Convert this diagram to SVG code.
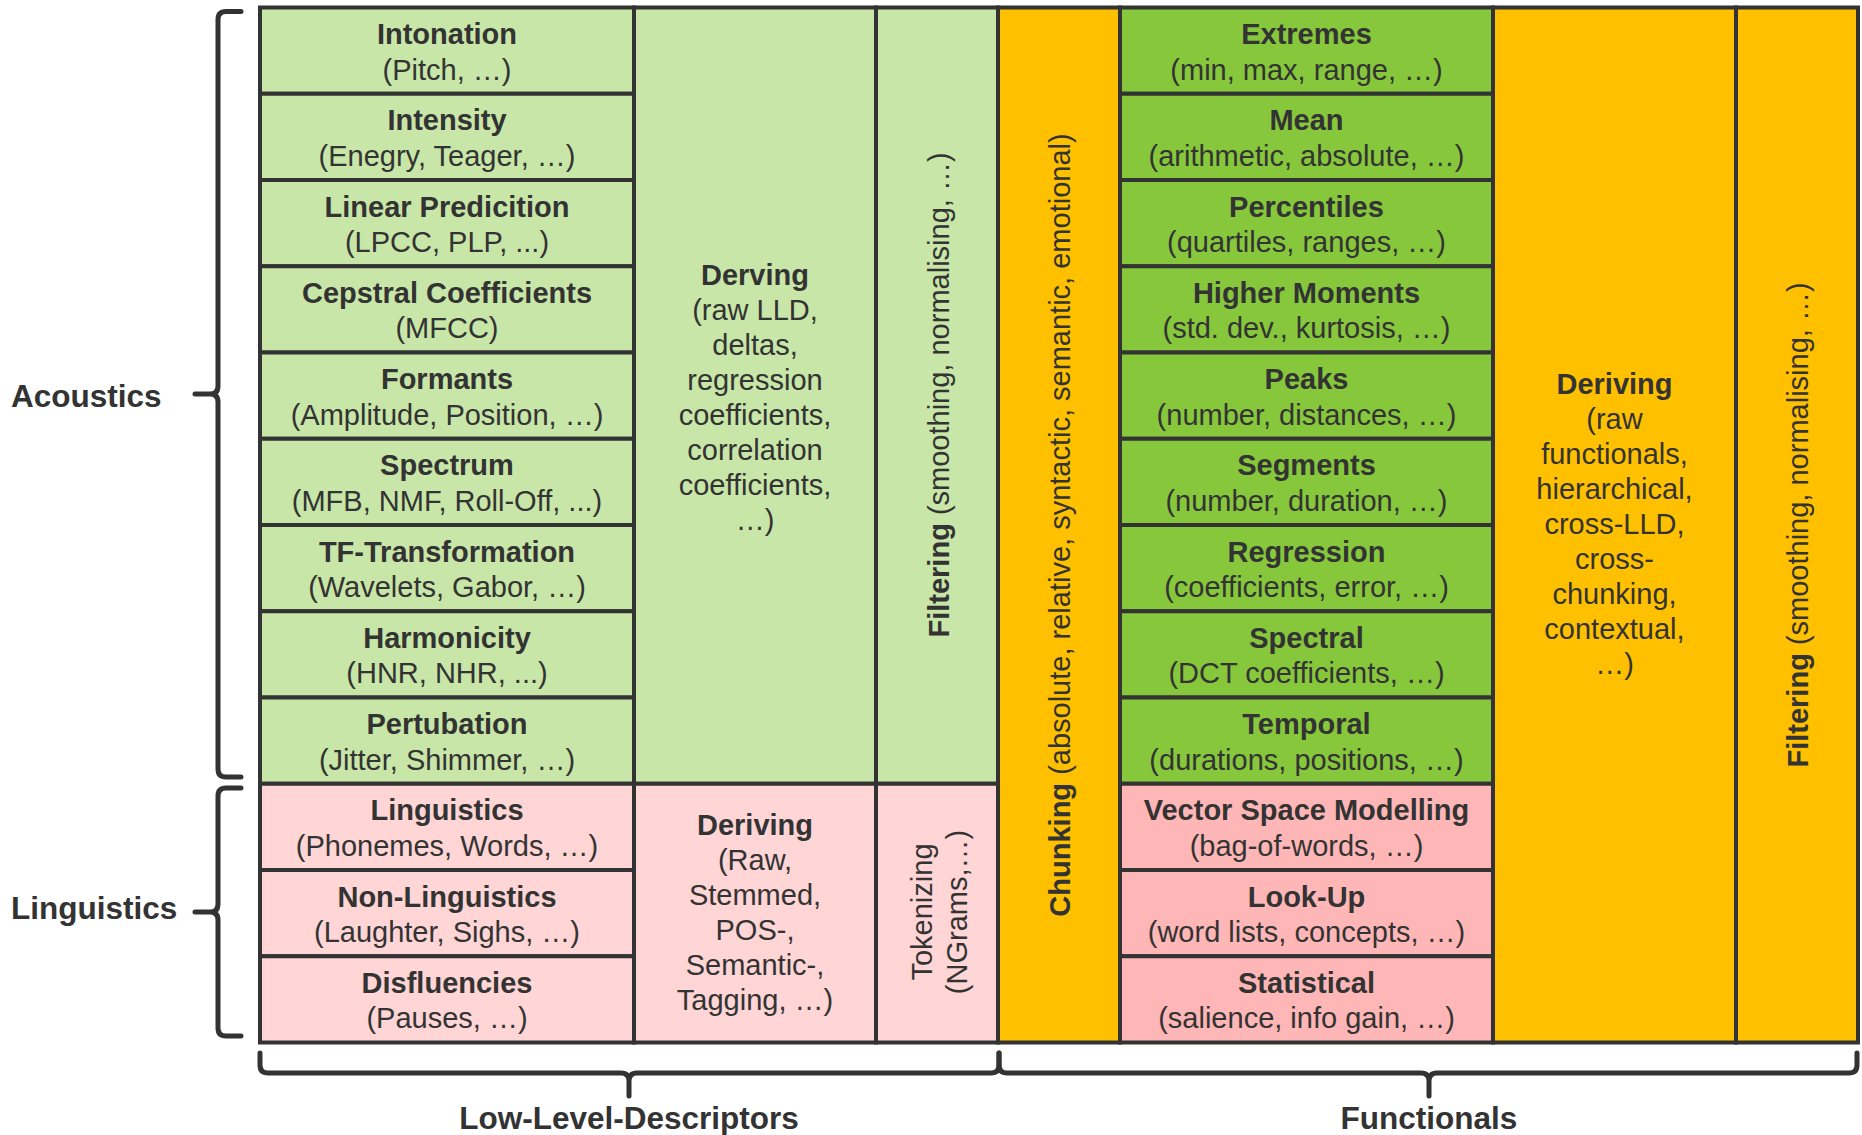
<svg xmlns="http://www.w3.org/2000/svg" width="1862" height="1135" viewBox="0 0 1862 1135">
<style>
text{font-family:"Liberation Sans",Arial,sans-serif;fill:#333;font-size:29px;text-anchor:middle}
.b{font-weight:bold}
.lbl{font-size:31.5px;font-weight:bold}
.side{font-size:31.5px;font-weight:bold;text-anchor:start}
.cell{stroke:#333;stroke-width:4}
.lg{fill:#C8E6A7}
.dg{fill:#86C73C}
.or{fill:#FFC000}
.lp{fill:#FFD5D5}
.dp{fill:#FFB6B6}
.brace{fill:none;stroke:#333;stroke-width:5;stroke-linecap:round;stroke-linejoin:round}
</style>
<rect width="1862" height="1135" fill="#fff"/>

<g id="acoustic-cells">
<g id="intonation"><rect class="cell lg" x="260" y="7.5" width="374" height="86.25"/><text x="447" y="44" class="b">Intonation</text><text x="447" y="79.5">(Pitch, …)</text></g>
<g id="intensity"><rect class="cell lg" x="260" y="93.75" width="374" height="86.25"/><text x="447" y="130.25" class="b">Intensity</text><text x="447" y="165.75">(Enegry, Teager, …)</text></g>
<g id="linear-prediction"><rect class="cell lg" x="260" y="180" width="374" height="86.25"/><text x="447" y="216.5" class="b">Linear Predicition</text><text x="447" y="252">(LPCC, PLP, ...)</text></g>
<g id="cepstral"><rect class="cell lg" x="260" y="266.25" width="374" height="86.25"/><text x="447" y="302.75" class="b">Cepstral Coefficients</text><text x="447" y="338.25">(MFCC)</text></g>
<g id="formants"><rect class="cell lg" x="260" y="352.5" width="374" height="86.25"/><text x="447" y="389" class="b">Formants</text><text x="447" y="424.5">(Amplitude, Position, …)</text></g>
<g id="spectrum"><rect class="cell lg" x="260" y="438.75" width="374" height="86.25"/><text x="447" y="475.25" class="b">Spectrum</text><text x="447" y="510.75">(MFB, NMF, Roll-Off, ...)</text></g>
<g id="tf-transformation"><rect class="cell lg" x="260" y="525" width="374" height="86.25"/><text x="447" y="561.5" class="b">TF-Transformation</text><text x="447" y="597">(Wavelets, Gabor, …)</text></g>
<g id="harmonicity"><rect class="cell lg" x="260" y="611.25" width="374" height="86.25"/><text x="447" y="647.75" class="b">Harmonicity</text><text x="447" y="683.25">(HNR, NHR, ...)</text></g>
<g id="pertubation"><rect class="cell lg" x="260" y="697.5" width="374" height="86.25"/><text x="447" y="734" class="b">Pertubation</text><text x="447" y="769.5">(Jitter, Shimmer, …)</text></g>
</g>

<g id="linguistic-cells">
<g id="linguistics"><rect class="cell lp" x="260" y="783.75" width="374" height="86.25"/><text x="447" y="820.25" class="b">Linguistics</text><text x="447" y="855.75">(Phonemes, Words, …)</text></g>
<g id="non-linguistics"><rect class="cell lp" x="260" y="870" width="374" height="86.25"/><text x="447" y="906.5" class="b">Non-Linguistics</text><text x="447" y="942">(Laughter, Sighs, …)</text></g>
<g id="disfluencies"><rect class="cell lp" x="260" y="956.25" width="374" height="86.25"/><text x="447" y="992.75" class="b">Disfluencies</text><text x="447" y="1028.25">(Pauses, …)</text></g>
</g>

<g id="lld-deriving-acoustic"><rect class="cell lg" x="634" y="7.5" width="242" height="776.25"/>
<text x="755" y="285" class="b">Derving</text><text x="755" y="320">(raw LLD,</text><text x="755" y="355">deltas,</text><text x="755" y="390">regression</text><text x="755" y="425">coefficients,</text><text x="755" y="460">correlation</text><text x="755" y="495">coefficients,</text><text x="755" y="530">…)</text></g>

<g id="lld-filtering"><rect class="cell lg" x="876" y="7.5" width="122" height="776.25"/>
<text transform="translate(949,395) rotate(-90)"><tspan class="b">Filtering</tspan> (smoothing, normalising, …)</text></g>

<g id="lld-deriving-linguistic"><rect class="cell lp" x="634" y="783.75" width="242" height="258.75"/>
<text x="755" y="835" class="b">Deriving</text><text x="755" y="870">(Raw,</text><text x="755" y="905">Stemmed,</text><text x="755" y="940">POS-,</text><text x="755" y="975">Semantic-,</text><text x="755" y="1010">Tagging, …)</text></g>

<g id="tokenizing"><rect class="cell lp" x="876" y="783.75" width="122" height="258.75"/>
<text transform="translate(932,912) rotate(-90)">Tokenizing</text><text transform="translate(967,912) rotate(-90)">(NGrams,…)</text></g>

<g id="chunking"><rect class="cell or" x="998" y="7.5" width="122" height="1035"/>
<text transform="translate(1070,525) rotate(-90)"><tspan class="b">Chunking</tspan> (absolute, relative, syntactic, semantic, emotional)</text></g>

<g id="functional-cells">
<g id="extremes"><rect class="cell dg" x="1120" y="7.5" width="373" height="86.25"/><text x="1306.5" y="44" class="b">Extremes</text><text x="1306.5" y="79.5">(min, max, range, …)</text></g>
<g id="mean"><rect class="cell dg" x="1120" y="93.75" width="373" height="86.25"/><text x="1306.5" y="130.25" class="b">Mean</text><text x="1306.5" y="165.75">(arithmetic, absolute, …)</text></g>
<g id="percentiles"><rect class="cell dg" x="1120" y="180" width="373" height="86.25"/><text x="1306.5" y="216.5" class="b">Percentiles</text><text x="1306.5" y="252">(quartiles, ranges, …)</text></g>
<g id="higher-moments"><rect class="cell dg" x="1120" y="266.25" width="373" height="86.25"/><text x="1306.5" y="302.75" class="b">Higher Moments</text><text x="1306.5" y="338.25">(std. dev., kurtosis, …)</text></g>
<g id="peaks"><rect class="cell dg" x="1120" y="352.5" width="373" height="86.25"/><text x="1306.5" y="389" class="b">Peaks</text><text x="1306.5" y="424.5">(number, distances, …)</text></g>
<g id="segments"><rect class="cell dg" x="1120" y="438.75" width="373" height="86.25"/><text x="1306.5" y="475.25" class="b">Segments</text><text x="1306.5" y="510.75">(number, duration, …)</text></g>
<g id="regression"><rect class="cell dg" x="1120" y="525" width="373" height="86.25"/><text x="1306.5" y="561.5" class="b">Regression</text><text x="1306.5" y="597">(coefficients, error, …)</text></g>
<g id="spectral"><rect class="cell dg" x="1120" y="611.25" width="373" height="86.25"/><text x="1306.5" y="647.75" class="b">Spectral</text><text x="1306.5" y="683.25">(DCT coefficients, …)</text></g>
<g id="temporal"><rect class="cell dg" x="1120" y="697.5" width="373" height="86.25"/><text x="1306.5" y="734" class="b">Temporal</text><text x="1306.5" y="769.5">(durations, positions, …)</text></g>
<g id="vector-space"><rect class="cell dp" x="1120" y="783.75" width="373" height="86.25"/><text x="1306.5" y="820.25" class="b">Vector Space Modelling</text><text x="1306.5" y="855.75">(bag-of-words, …)</text></g>
<g id="look-up"><rect class="cell dp" x="1120" y="870" width="373" height="86.25"/><text x="1306.5" y="906.5" class="b">Look-Up</text><text x="1306.5" y="942">(word lists, concepts, …)</text></g>
<g id="statistical"><rect class="cell dp" x="1120" y="956.25" width="373" height="86.25"/><text x="1306.5" y="992.75" class="b">Statistical</text><text x="1306.5" y="1028.25">(salience, info gain, …)</text></g>
</g>

<g id="func-deriving"><rect class="cell or" x="1493" y="7.5" width="243" height="1035"/>
<text x="1614.5" y="394" class="b">Deriving</text><text x="1614.5" y="429">(raw</text><text x="1614.5" y="464">functionals,</text><text x="1614.5" y="499">hierarchical,</text><text x="1614.5" y="534">cross-LLD,</text><text x="1614.5" y="569">cross-</text><text x="1614.5" y="604">chunking,</text><text x="1614.5" y="639">contextual,</text><text x="1614.5" y="674">…)</text></g>

<g id="func-filtering"><rect class="cell or" x="1736" y="7.5" width="122" height="1035"/>
<text transform="translate(1808,525) rotate(-90)"><tspan class="b">Filtering</tspan> (smoothing, normalising, …)</text></g>

<g id="connectors">
<path class="brace" d="M241,11.5 H226 Q218,11.5 218,19.5 V386 Q218,394 210,394 H195 M210,394 Q218,394 218,402 V769 Q218,777 226,777 H241"/>
<path class="brace" d="M241,788 H226 Q218,788 218,796 V904 Q218,912 210,912 H195 M210,912 Q218,912 218,920 V1028 Q218,1036 226,1036 H241"/>
<path class="brace" d="M260,1053 V1065 Q260,1073 268,1073 H621 Q629,1073 629,1081 V1096 M629,1081 Q629,1073 637,1073 H991 Q999,1073 999,1065 V1053"/>
<path class="brace" d="M999,1053 V1065 Q999,1073 1007,1073 H1421 Q1429,1073 1429,1081 V1096 M1429,1081 Q1429,1073 1437,1073 H1849 Q1857,1073 1857,1065 V1053"/>
</g>

<g id="labels">
<text x="11" y="407" class="side">Acoustics</text>
<text x="11" y="919" class="side">Linguistics</text>
<text x="629" y="1129" class="lbl">Low-Level-Descriptors</text>
<text x="1429" y="1129" class="lbl">Functionals</text>
</g>
</svg>
